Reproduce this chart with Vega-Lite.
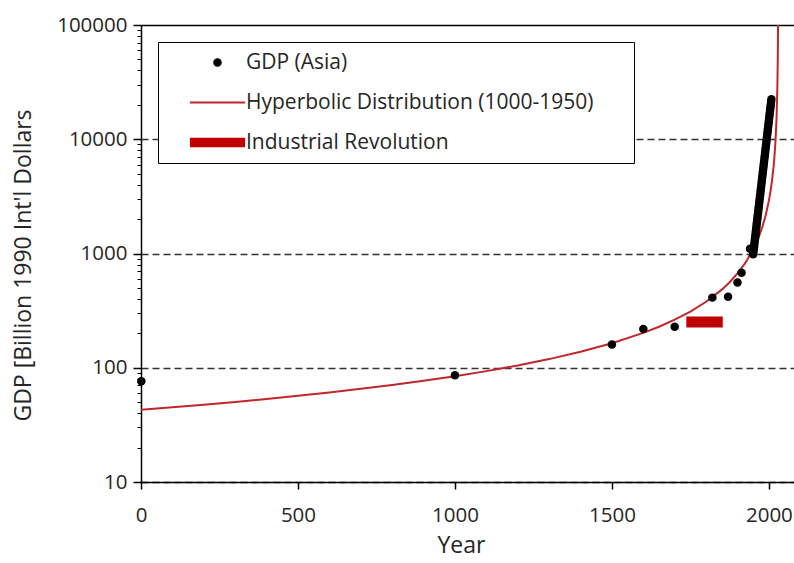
{
  "$schema": "https://vega.github.io/schema/vega-lite/v6.json",
  "width": 653,
  "height": 457,
  "autosize": {"type": "none"},
  "padding": {"left": 141, "top": 25, "right": 0, "bottom": 81},
  "background": "white",
  "config": {
    "view": {"stroke": null},
    "font": "Open Sans",
    "axis": {
      "domainColor": "#000000",
      "domainWidth": 1.5,
      "tickColor": "#000000",
      "tickWidth": 1.5,
      "labelFont": "Open Sans",
      "labelFontSize": 20.5,
      "labelColor": "#262626",
      "titleFont": "Open Sans",
      "titleFontSize": 23,
      "titleFontWeight": "normal",
      "titleColor": "#262626"
    }
  },
  "datasets": {
    "gdp": [
      {"year": 1, "gdp": 76, "series": "GDP (Asia)"},
      {"year": 1000, "gdp": 86, "series": "GDP (Asia)"},
      {"year": 1500, "gdp": 160, "series": "GDP (Asia)"},
      {"year": 1600, "gdp": 218, "series": "GDP (Asia)"},
      {"year": 1700, "gdp": 229, "series": "GDP (Asia)"},
      {"year": 1820, "gdp": 411, "series": "GDP (Asia)"},
      {"year": 1870, "gdp": 418, "series": "GDP (Asia)"},
      {"year": 1900, "gdp": 557, "series": "GDP (Asia)"},
      {"year": 1913, "gdp": 680, "series": "GDP (Asia)"},
      {"year": 1940, "gdp": 1100, "series": "GDP (Asia)"},
      {"year": 1950, "gdp": 986, "series": "GDP (Asia)"},
      {"year": 1951, "gdp": 1040, "series": "GDP (Asia)"},
      {"year": 1952, "gdp": 1098, "series": "GDP (Asia)"},
      {"year": 1953, "gdp": 1159, "series": "GDP (Asia)"},
      {"year": 1954, "gdp": 1223, "series": "GDP (Asia)"},
      {"year": 1955, "gdp": 1290, "series": "GDP (Asia)"},
      {"year": 1956, "gdp": 1362, "series": "GDP (Asia)"},
      {"year": 1957, "gdp": 1437, "series": "GDP (Asia)"},
      {"year": 1958, "gdp": 1517, "series": "GDP (Asia)"},
      {"year": 1959, "gdp": 1601, "series": "GDP (Asia)"},
      {"year": 1960, "gdp": 1689, "series": "GDP (Asia)"},
      {"year": 1961, "gdp": 1783, "series": "GDP (Asia)"},
      {"year": 1962, "gdp": 1881, "series": "GDP (Asia)"},
      {"year": 1963, "gdp": 1985, "series": "GDP (Asia)"},
      {"year": 1964, "gdp": 2095, "series": "GDP (Asia)"},
      {"year": 1965, "gdp": 2211, "series": "GDP (Asia)"},
      {"year": 1966, "gdp": 2333, "series": "GDP (Asia)"},
      {"year": 1967, "gdp": 2462, "series": "GDP (Asia)"},
      {"year": 1968, "gdp": 2598, "series": "GDP (Asia)"},
      {"year": 1969, "gdp": 2742, "series": "GDP (Asia)"},
      {"year": 1970, "gdp": 2893, "series": "GDP (Asia)"},
      {"year": 1971, "gdp": 3053, "series": "GDP (Asia)"},
      {"year": 1972, "gdp": 3222, "series": "GDP (Asia)"},
      {"year": 1973, "gdp": 3400, "series": "GDP (Asia)"},
      {"year": 1974, "gdp": 3588, "series": "GDP (Asia)"},
      {"year": 1975, "gdp": 3787, "series": "GDP (Asia)"},
      {"year": 1976, "gdp": 3996, "series": "GDP (Asia)"},
      {"year": 1977, "gdp": 4217, "series": "GDP (Asia)"},
      {"year": 1978, "gdp": 4450, "series": "GDP (Asia)"},
      {"year": 1979, "gdp": 4696, "series": "GDP (Asia)"},
      {"year": 1980, "gdp": 4956, "series": "GDP (Asia)"},
      {"year": 1981, "gdp": 5230, "series": "GDP (Asia)"},
      {"year": 1982, "gdp": 5519, "series": "GDP (Asia)"},
      {"year": 1983, "gdp": 5825, "series": "GDP (Asia)"},
      {"year": 1984, "gdp": 6147, "series": "GDP (Asia)"},
      {"year": 1985, "gdp": 6487, "series": "GDP (Asia)"},
      {"year": 1986, "gdp": 6845, "series": "GDP (Asia)"},
      {"year": 1987, "gdp": 7224, "series": "GDP (Asia)"},
      {"year": 1988, "gdp": 7623, "series": "GDP (Asia)"},
      {"year": 1989, "gdp": 8045, "series": "GDP (Asia)"},
      {"year": 1990, "gdp": 8490, "series": "GDP (Asia)"},
      {"year": 1991, "gdp": 8960, "series": "GDP (Asia)"},
      {"year": 1992, "gdp": 9455, "series": "GDP (Asia)"},
      {"year": 1993, "gdp": 9978, "series": "GDP (Asia)"},
      {"year": 1994, "gdp": 10530, "series": "GDP (Asia)"},
      {"year": 1995, "gdp": 11112, "series": "GDP (Asia)"},
      {"year": 1996, "gdp": 11727, "series": "GDP (Asia)"},
      {"year": 1997, "gdp": 12375, "series": "GDP (Asia)"},
      {"year": 1998, "gdp": 13060, "series": "GDP (Asia)"},
      {"year": 1999, "gdp": 13782, "series": "GDP (Asia)"},
      {"year": 2000, "gdp": 14544, "series": "GDP (Asia)"},
      {"year": 2001, "gdp": 15349, "series": "GDP (Asia)"},
      {"year": 2002, "gdp": 16198, "series": "GDP (Asia)"},
      {"year": 2003, "gdp": 17093, "series": "GDP (Asia)"},
      {"year": 2004, "gdp": 18039, "series": "GDP (Asia)"},
      {"year": 2005, "gdp": 19036, "series": "GDP (Asia)"},
      {"year": 2006, "gdp": 20089, "series": "GDP (Asia)"},
      {"year": 2007, "gdp": 21200, "series": "GDP (Asia)"},
      {"year": 2008, "gdp": 22373, "series": "GDP (Asia)"}
    ],
    "curve": [
      {"year": 0, "gdp": 42.81},
      {"year": 100, "gdp": 45.03},
      {"year": 200, "gdp": 47.49},
      {"year": 300, "gdp": 50.23},
      {"year": 400, "gdp": 53.31},
      {"year": 500, "gdp": 56.8},
      {"year": 600, "gdp": 60.77},
      {"year": 700, "gdp": 65.34},
      {"year": 800, "gdp": 70.65},
      {"year": 900, "gdp": 76.9},
      {"year": 1000, "gdp": 84.37},
      {"year": 1100, "gdp": 93.44},
      {"year": 1200, "gdp": 104.7},
      {"year": 1300, "gdp": 119.04},
      {"year": 1400, "gdp": 137.94},
      {"year": 1500, "gdp": 163.96},
      {"year": 1600, "gdp": 202.09},
      {"year": 1650, "gdp": 228.68},
      {"year": 1700, "gdp": 263.33},
      {"year": 1750, "gdp": 310.36},
      {"year": 1800, "gdp": 377.83},
      {"year": 1850, "gdp": 482.78},
      {"year": 1875, "gdp": 560.65},
      {"year": 1900, "gdp": 668.46},
      {"year": 1925, "gdp": 827.62},
      {"year": 1950, "gdp": 1086.25},
      {"year": 1960, "gdp": 1241.43},
      {"year": 1970, "gdp": 1448.33},
      {"year": 1980, "gdp": 1738},
      {"year": 1990, "gdp": 2172.5},
      {"year": 2000, "gdp": 2896.67},
      {"year": 2005, "gdp": 3476},
      {"year": 2010, "gdp": 4345},
      {"year": 2015, "gdp": 5793.3},
      {"year": 2018, "gdp": 7241.7},
      {"year": 2020, "gdp": 8690},
      {"year": 2022, "gdp": 10862.5},
      {"year": 2024, "gdp": 14483.3},
      {"year": 2025, "gdp": 17380},
      {"year": 2026, "gdp": 21725},
      {"year": 2027, "gdp": 28966.7},
      {"year": 2028, "gdp": 43450},
      {"year": 2028.5, "gdp": 57933},
      {"year": 2029, "gdp": 86900},
      {"year": 2029.13, "gdp": 100000}
    ],
    "ir": [
      {"start": 1737, "end": 1853, "gdp": 251}
    ]
  },
  "layer": [
    {
      "data": {"name": "curve"},
      "mark": {"type": "line", "color": "#c0272d", "strokeWidth": 2, "clip": true},
      "encoding": {
        "x": {
          "field": "year",
          "type": "quantitative",
          "scale": {"domain": [0, 2080], "nice": false, "zero": false},
          "axis": {
            "values": [0, 500, 1000, 1500, 2000],
            "grid": false,
            "tickSize": 7,
            "labelPadding": 16,
            "labelFlush": false,
            "format": "d",
            "title": "Year",
            "titleX": 320,
            "titleY": 70,
            "titleBaseline": "alphabetic",
            "titleAlign": "center"
          }
        },
        "y": {
          "field": "gdp",
          "type": "quantitative",
          "scale": {"type": "log", "domain": [10, 100000], "nice": false},
          "axis": {
            "orient": "left",
            "values": [10, 20, 30, 40, 50, 60, 70, 80, 90, 100, 200, 300, 400, 500, 600, 700, 800, 900, 1000, 2000, 3000, 4000, 5000, 6000, 7000, 8000, 9000, 10000, 20000, 30000, 40000, 50000, 60000, 70000, 80000, 90000, 100000],
            "labelExpr": "indexof([10, 100, 1000, 10000, 100000], datum.value) >= 0 ? format(datum.value, 'd') : ''",
            "labelOverlap": false,
            "tickSize": {"condition": {"test": "indexof([10, 100, 1000, 10000, 100000], datum.value) >= 0", "value": 8}, "value": 4},
            "tickWidth": {"condition": {"test": "indexof([10, 100, 1000, 10000, 100000], datum.value) >= 0", "value": 1.5}, "value": 1},
            "labelPadding": 6,
            "grid": true,
            "gridOpacity": {"condition": {"test": "indexof([10, 100, 1000, 10000, 100000], datum.value) >= 0", "value": 1}, "value": 0},
            "gridColor": {"condition": {"test": "datum.value >= 99999", "value": "#000000"}, "value": "#333333"},
            "gridWidth": 1.5,
            "gridDash": {"condition": {"test": "datum.value >= 99999", "value": [1, 0]}, "value": [7, 4]},
            "title": "GDP [Billion 1990 Int'l Dollars",
            "titleAngle": 270,
            "titleX": -118,
            "titleY": 240,
            "titleBaseline": "middle",
            "titleAlign": "center"
          }
        }
      }
    },
    {
      "data": {"name": "ir"},
      "mark": {"type": "rule", "color": "#c00000", "strokeWidth": 11, "strokeCap": "butt"},
      "encoding": {
        "x": {"field": "start", "type": "quantitative"},
        "x2": {"field": "end"},
        "y": {"field": "gdp", "type": "quantitative"}
      }
    },
    {
      "data": {"name": "gdp"},
      "mark": {"type": "point", "filled": true, "size": 72, "opacity": 1},
      "encoding": {
        "x": {"field": "year", "type": "quantitative"},
        "y": {"field": "gdp", "type": "quantitative"},
        "color": {
          "field": "series",
          "type": "nominal",
          "scale": {
            "domain": ["GDP (Asia)", "Hyperbolic Distribution (1000-1950)", "Industrial Revolution"],
            "range": ["#000000", "#c0272d", "#c00000"]
          },
          "legend": {
            "orient": "none",
            "legendX": 17,
            "legendY": 17,
            "title": null,
            "fillColor": "white",
            "strokeColor": "#000000",
            "padding": 10,
            "symbolSize": 72,
            "symbolOpacity": 1,
            "symbolStrokeWidth": 0,
            "symbolOffset": 39,
            "labelOffset": 18,
            "labelFont": "Open Sans",
            "labelFontSize": 21,
            "labelColor": "#262626",
            "labelLimit": 600,
            "rowPadding": 18,
            "labelExpr": "datum.label == 'Hyperbolic Distribution (1000-1950)' ? datum.label + '\u2800\u2800' : datum.label"
          }
        },
        "shape": {
          "field": "series",
          "type": "nominal",
          "scale": {
            "domain": ["GDP (Asia)", "Hyperbolic Distribution (1000-1950)", "Industrial Revolution"],
            "range": ["circle", "M-6.5,-0.24H6.5V0.24H-6.5Z", "M-6.5,-1.1H6.5V1.1H-6.5Z"]
          },
          "legend": {
            "orient": "none",
            "legendX": 17,
            "legendY": 17,
            "title": null,
            "fillColor": "white",
            "strokeColor": "#000000",
            "padding": 10,
            "symbolSize": 72,
            "symbolOpacity": 1,
            "symbolStrokeWidth": 0,
            "symbolOffset": 39,
            "labelOffset": 18,
            "labelFont": "Open Sans",
            "labelFontSize": 21,
            "labelColor": "#262626",
            "labelLimit": 600,
            "rowPadding": 18,
            "labelExpr": "datum.label == 'Hyperbolic Distribution (1000-1950)' ? datum.label + '\u2800\u2800' : datum.label"
          }
        }
      }
    }
  ]
}
